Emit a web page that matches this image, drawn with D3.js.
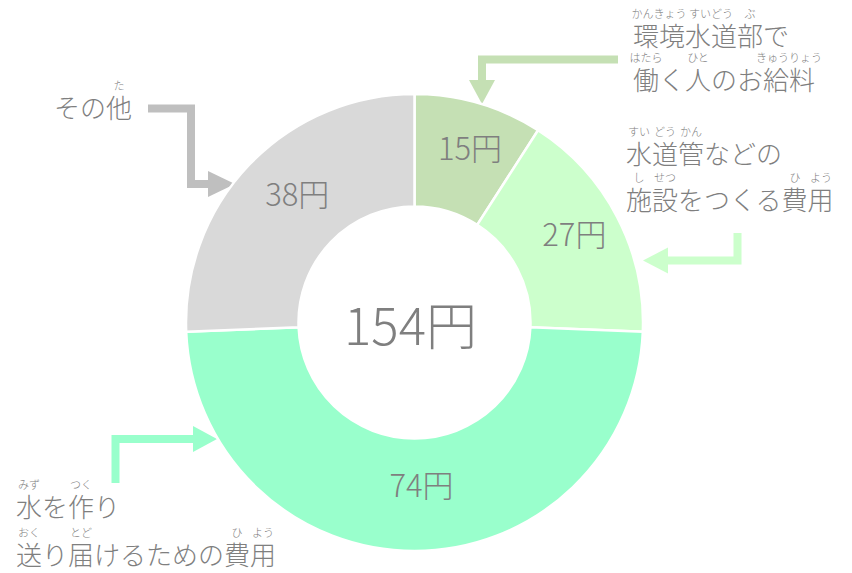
<!DOCTYPE html>
<meta charset="utf-8">
<script src="https://d3js.org/d3.v7.min.js"></script>
<style>
  body { margin: 0; background: #fff; }
  text { font-family: "Noto Sans CJK JP", sans-serif; font-weight: 300; fill: #7f7f7f; }
</style>
<body>
<div id="chart"></div>
<script>

// yen amounts printed on each slice
var amounts = [15, 27, 74, 38];
var total = 154;
var sliceSizes = [14, 25.5, 75, 39.5];
var colors = ["#c5e0b4", "#ccffcc", "#99ffcc", "#d9d9d9"];
var arrowColors = ["#c5e0b4", "#ccffcc", "#99ffcc", "#bfbfbf"];

// label lines with furigana: [text, [[first char, char count, reading], ...]]
var labelLines = [
  [["環境水道部で", [[0, 2, "かんきょう"], [2, 2, "すいどう"], [4, 1, "ぶ"]]],
   ["働く人のお給料", [[0, 1, "はたら"], [2, 1, "ひと"], [5, 2, "きゅうりょう"]]]],
  [["水道管などの", [[0, 1, "すい"], [1, 1, "どう"], [2, 1, "かん"]]],
   ["施設をつくる費用", [[0, 1, "し"], [1, 1, "せつ"], [6, 1, "ひ"], [7, 1, "よう"]]]],
  [["水を作り", [[0, 1, "みず"], [2, 1, "つく"]]],
   ["送り届けるための費用", [[0, 1, "おく"], [2, 1, "とど"], [8, 1, "ひ"], [9, 1, "よう"]]]],
  [["その他", [[2, 1, "た"]]]]
];

var width = 852, height = 573;
var cx = 414.5, cy = 322.5, outerR = 228.5, innerR = 116;
var fs = 26, rubyFs = 11;

// where each label block sits: left x, baselines of its lines
var labelPos = [
  {x: 633, y: [46, 90]},
  {x: 626, y: [164, 210]},
  {x: 16, y: [517, 565]},
  {x: 54, y: [118]}
];

// bent arrows: polyline of the shaft, then the head (base centre -> tip)
var arrows = [
  {pts: [[618, 59.5], [482, 59.5], [482, 80]], tip: [482, 104]},
  {pts: [[737.5, 233], [737.5, 260.5], [668, 260.5]], tip: [643, 260.5]},
  {pts: [[115.5, 483], [115.5, 439], [193, 439]], tip: [217, 439]},
  {pts: [[148, 108.5], [191, 108.5], [191, 184], [208, 184]], tip: [235, 184]}
];

var svg = d3.select("#chart")
  .append("svg")
    .attr("width", width)
    .attr("height", height);

// arrows
arrows.forEach(function(a, i) {
  svg.append("path")
    .attr("d", d3.line()(a.pts))
    .attr("fill", "none")
    .attr("stroke", arrowColors[i])
    .attr("stroke-width", 8)
    .attr("stroke-linejoin", "miter");
  var b = a.pts[a.pts.length - 1], t = a.tip;
  var dx = t[0] - b[0], dy = t[1] - b[1];
  var len = Math.sqrt(dx * dx + dy * dy), hw = 13;
  var nx = -dy / len * hw, ny = dx / len * hw;
  svg.append("path")
    .attr("d", "M" + (b[0] + nx) + "," + (b[1] + ny) + "L" + t[0] + "," + t[1] + "L" + (b[0] - nx) + "," + (b[1] - ny) + "Z")
    .attr("fill", arrowColors[i]);
});

// donut
var pie = d3.pie().sort(null).value(function(d) { return d; });
var arc = d3.arc().innerRadius(innerR).outerRadius(outerR);
var g = svg.append("g").attr("transform", "translate(" + cx + "," + cy + ")");

var arcs = pie(sliceSizes);
g.selectAll("path.slice")
  .data(arcs)
  .enter()
  .append("path")
    .attr("class", "slice")
    .attr("d", arc)
    .attr("fill", function(d, i) { return colors[i]; })
    .attr("stroke", "#fff")
    .attr("stroke-width", 2.5);

g.selectAll("text.amount")
  .data(arcs)
  .enter()
  .append("text")
    .attr("class", "amount")
    .attr("x", function(d) { return arc.centroid(d)[0] + 7; })
    .attr("y", function(d) { return arc.centroid(d)[1] - 11; })
    .attr("text-anchor", "middle")
    .attr("dominant-baseline", "central")
    .style("font-size", "31px")
    .text(function(d, i) { return amounts[i] + "円"; });

g.append("text")
  .attr("x", -4)
  .attr("y", 0)
  .attr("text-anchor", "middle")
  .attr("dominant-baseline", "central")
  .style("font-size", "51px")
  .text(total + "円");

// labels with furigana
labelLines.forEach(function(lines, i) {
  var p = labelPos[i];
  lines.forEach(function(line, j) {
    var y = p.y[j];
    svg.append("text")
      .attr("x", p.x)
      .attr("y", y)
      .style("font-size", fs + "px")
      .text(line[0]);
    line[1].forEach(function(r) {
      svg.append("text")
        .attr("x", p.x + (r[0] + r[1] / 2) * fs)
        .attr("y", y - 28)
        .attr("text-anchor", "middle")
        .style("font-size", rubyFs + "px")
        .text(r[2]);
    });
  });
});

</script>
</body>
